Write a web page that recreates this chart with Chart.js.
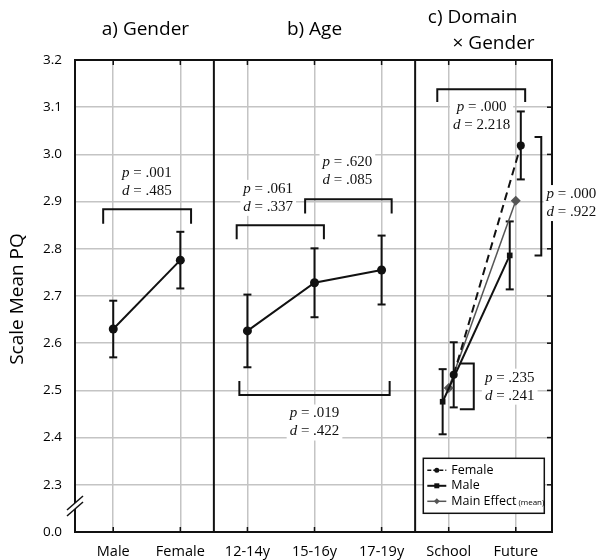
<!DOCTYPE html>
<html><head><meta charset="utf-8">
<script src="https://cdn.jsdelivr.net/npm/chart.js@4"></script>
<style>html,body{margin:0;padding:0;background:#fff}#wrap{width:602px;height:560px}</style>
</head><body><div id="wrap"><canvas id="c" width="602" height="560"></canvas></div>
<script>
// ---------- data ----------
const categories = ['Male','Female','12-14y','15-16y','17-19y','School','Future'];
const yTickValues = [2.2,2.3,2.4,2.5,2.6,2.7,2.8,2.9,3.0,3.1,3.2];
const yTickLabels = ['0.0','2.3','2.4','2.5','2.6','2.7','2.8','2.9','3.0','3.1','3.2'];
const panelTitles = ['a) Gender','b) Age','c) Domain','\u00d7 Gender'];
const yTitle = 'Scale Mean PQ';

const genderMeans  = [2.630, 2.776];
const genderErrors = [0.060, 0.060];
const ageMeans  = [2.626, 2.728, 2.755];
const ageErrors = [0.077, 0.073, 0.073];
const femaleMeans  = [2.533, 3.019];
const femaleErrors = [0.069, 0.072];
const maleMeans  = [2.476, 2.786];
const maleErrors = [0.069, 0.072];
const mainEffectMeans = [2.505, 2.902];

const legendLabels = ['Female','Male','Main Effect'];
const statP = ['.001','.061','.620','.019','.000','.000','.235'];
const statD = ['.485','.337','.085','.422','2.218','.922','.241'];

// ---------- annotation geometry (axis units) ----------
const brackets = [
  {kind:'h', x1:-0.15, x2:1.16, y:2.884, yEnd:2.853, tx:0.5,  ty:2.961, s:0},
  {kind:'h', x1:1.84,  x2:3.14, y:2.850, yEnd:2.820, tx:2.31, ty:2.927, s:1},
  {kind:'h', x1:2.86,  x2:4.15, y:2.905, yEnd:2.875, tx:3.49, ty:2.984, s:2},
  {kind:'h', x1:1.88,  x2:4.12, y:2.490, yEnd:2.520, tx:3.00, ty:2.451, s:3},
  {kind:'h', x1:4.83,  x2:6.14, y:3.138, yEnd:3.111, tx:5.49, ty:3.100, s:4},
  {kind:'v', x:6.38, xEnd:6.28, y1:3.037, y2:2.786, tx:6.83, ty:2.916, s:5},
  {kind:'v', x:5.374, xEnd:5.166, y1:2.557, y2:2.460, tx:5.91, ty:2.527, s:6}
];
const X_MIN = -0.57, X_MAX = 6.54;
const DODGE_F = 0.075, DODGE_M = -0.09;

const SANS = '"Open Sans", "DejaVu Sans", sans-serif';
const SERIF = '"Liberation Serif", "DejaVu Serif", serif';
const INK = '#111';
const GRID = '#c4c4c4';

function line(ctx, x1, y1, x2, y2){ ctx.beginPath(); ctx.moveTo(x1,y1); ctx.lineTo(x2,y2); ctx.stroke(); }

function statGeom(ctx, chart, b){
  const x = chart.scales.x, y = chart.scales.y;
  const cx = x.getPixelForValue(b.tx);
  const py = y.getPixelForValue(b.ty);
  const dy = py + 18;
  const rows = [['p',' = '+statP[b.s], py], ['d',' = '+statD[b.s], dy]];
  let wmax = 0;
  rows.forEach(r=>{
    ctx.font = 'italic 15px ' + SERIF; const w1 = ctx.measureText(r[0]).width;
    ctx.font = '15px ' + SERIF; const w2 = ctx.measureText(r[1]).width;
    r.push(w1, w2); wmax = Math.max(wmax, w1+w2);
  });
  return {cx, py, dy, rows, wmax};
}

const overlay = {
  id: 'overlay',
  beforeDatasetsDraw(chart){
    const {ctx, chartArea:a} = chart; const x = chart.scales.x, y = chart.scales.y;
    ctx.save();
    ctx.strokeStyle = INK; ctx.lineWidth = 2;
    ctx.strokeRect(a.left, a.top, a.right-a.left, a.bottom-a.top);
    [1.5, 4.5].forEach(v=>{ const px = x.getPixelForValue(v); line(ctx, px, a.top, px, a.bottom); });
    ctx.lineWidth = 1.5;
    categories.forEach((c,i)=>{
      const px = x.getPixelForValue(i);
      line(ctx, px, a.top, px, a.top+5);
      line(ctx, px, a.bottom, px, a.bottom-5);
    });
    yTickValues.slice(1,-1).forEach(v=>{ const py = y.getPixelForValue(v); line(ctx, a.right, py, a.right-5, py); });
    // axis break
    const by = y.getPixelForValue(2.255), bx = a.left;
    ctx.fillStyle = '#fff';
    ctx.beginPath();
    ctx.moveTo(bx-8, by+4); ctx.lineTo(bx+8, by-10); ctx.lineTo(bx+8, by-4); ctx.lineTo(bx-8, by+10); ctx.closePath(); ctx.fill();
    ctx.strokeStyle = INK; ctx.lineWidth = 1.5;
    line(ctx, bx-8, by+4, bx+8, by-10);
    line(ctx, bx-8, by+10, bx+8, by-4);
    // white boxes behind stats
    brackets.forEach(b=>{
      const g = statGeom(ctx, chart, b);
      ctx.fillStyle = '#fff';
      ctx.fillRect(g.cx - g.wmax/2 - 3, g.py - 9, g.wmax + 6, g.dy - g.py + 18);
    });
    // error bars
    ctx.strokeStyle = INK; ctx.lineWidth = 2;
    chart.data.datasets.forEach(ds=>{
      if (!ds.err) return;
      ds.data.forEach((p,i)=>{
        const px = x.getPixelForValue(p.x);
        const t = y.getPixelForValue(p.y + ds.err[i]);
        const bt = y.getPixelForValue(p.y - ds.err[i]);
        line(ctx, px, t, px, bt);
        line(ctx, px-4, t, px+4, t);
        line(ctx, px-4, bt, px+4, bt);
      });
    });
    ctx.restore();
  },
  afterDatasetsDraw(chart){
    const {ctx, chartArea:a} = chart; const x = chart.scales.x, y = chart.scales.y;
    ctx.save();
    // brackets
    ctx.strokeStyle = INK; ctx.lineWidth = 2;
    brackets.forEach(b=>{
      ctx.beginPath();
      if (b.kind === 'h'){
        const x1 = x.getPixelForValue(b.x1), x2 = x.getPixelForValue(b.x2);
        const yy = y.getPixelForValue(b.y), ye = y.getPixelForValue(b.yEnd);
        ctx.moveTo(x1, ye); ctx.lineTo(x1, yy); ctx.lineTo(x2, yy); ctx.lineTo(x2, ye);
      } else {
        const xx = x.getPixelForValue(b.x), xe = x.getPixelForValue(b.xEnd);
        const y1 = y.getPixelForValue(b.y1), y2 = y.getPixelForValue(b.y2);
        ctx.moveTo(xe, y1); ctx.lineTo(xx, y1); ctx.lineTo(xx, y2); ctx.lineTo(xe, y2);
      }
      ctx.stroke();
    });
    // stat texts
    ctx.fillStyle = INK; ctx.textBaseline = 'middle'; ctx.textAlign = 'left';
    brackets.forEach(b=>{
      const g = statGeom(ctx, chart, b);
      g.rows.forEach(r=>{
        const w = r[3] + r[4]; const sx = g.cx - w/2;
        ctx.font = 'italic 15px ' + SERIF; ctx.fillText(r[0], sx, r[2]);
        ctx.font = '15px ' + SERIF; ctx.fillText(r[1], sx + r[3], r[2]);
      });
    });
    // legend
    const lx = a.right - 128.7, ly = a.bottom - 73.7, lw = 121, lh = 55;
    ctx.fillStyle = '#fff'; ctx.fillRect(lx, ly, lw, lh);
    ctx.strokeStyle = INK; ctx.lineWidth = 1.5; ctx.strokeRect(lx, ly, lw, lh);
    const rowsY = [ly+12, ly+27.5, ly+43];
    const styles = [
      {c:INK, dash:[4,2], w:1.5, pt:'circle'},
      {c:INK, dash:[], w:2, pt:'rect'},
      {c:'#555', dash:[], w:1.5, pt:'rectRot'}
    ];
    legendLabels.forEach((lab,i)=>{
      const st = styles[i], yy = rowsY[i];
      ctx.strokeStyle = st.c; ctx.lineWidth = st.w; ctx.setLineDash(st.dash);
      line(ctx, lx+4, yy, lx+23, yy);
      ctx.setLineDash([]);
      ctx.fillStyle = st.c;
      const mx = lx + 13.5;
      ctx.beginPath();
      if (st.pt === 'circle') ctx.arc(mx, yy, 2.5, 0, Math.PI*2);
      else if (st.pt === 'rect') ctx.rect(mx-2.5, yy-2.5, 5, 5);
      else { ctx.moveTo(mx, yy-3); ctx.lineTo(mx+3, yy); ctx.lineTo(mx, yy+3); ctx.lineTo(mx-3, yy); ctx.closePath(); }
      ctx.fill();
      ctx.fillStyle = '#000'; ctx.textAlign = 'left'; ctx.textBaseline = 'middle';
      ctx.font = '12.5px ' + SANS; ctx.fillText(lab, lx+28, yy);
      if (i === 2){
        const w = ctx.measureText(lab).width;
        ctx.font = '8px ' + SANS; ctx.fillText('(mean)', lx+28+w+2, yy+1);
      }
    });
    // panel titles
    ctx.fillStyle = '#000'; ctx.textAlign = 'center'; ctx.textBaseline = 'middle';
    ctx.font = '19px ' + SANS;
    const pa = (x.getPixelForValue(X_MIN) + x.getPixelForValue(1.5))/2;
    const pb = (x.getPixelForValue(1.5) + x.getPixelForValue(4.5))/2;
    const pc = (x.getPixelForValue(4.5) + x.getPixelForValue(X_MAX))/2;
    ctx.fillText(panelTitles[0], pa+1, 30);
    ctx.fillText(panelTitles[1], pb, 30);
    ctx.fillText(panelTitles[2], pc-11, 18);
    ctx.fillText(panelTitles[3], pc+10, 44);
    // y title
    ctx.save();
    ctx.translate(18, (a.top + a.bottom)/2 + 3);
    ctx.rotate(-Math.PI/2);
    ctx.font = '19px ' + SANS;
    ctx.fillText(yTitle, 0, 0);
    ctx.restore();
    ctx.restore();
  }
};

function build(){
  const datasets = [
    {label:'Gender', data: genderMeans.map((v,i)=>({x:i, y:v})), err: genderErrors,
     borderColor:INK, backgroundColor:INK, borderWidth:2, pointRadius:4.5, pointStyle:'circle', pointBorderWidth:0},
    {label:'Age', data: ageMeans.map((v,i)=>({x:2+i, y:v})), err: ageErrors,
     borderColor:INK, backgroundColor:INK, borderWidth:2, pointRadius:4.5, pointStyle:'circle', pointBorderWidth:0},
    {label:'Female', data: femaleMeans.map((v,i)=>({x:5+i+DODGE_F, y:v})), err: femaleErrors,
     borderColor:INK, backgroundColor:INK, borderWidth:2, borderDash:[8,5], pointRadius:4, pointStyle:'circle', pointBorderWidth:0},
    {label:'Male', data: maleMeans.map((v,i)=>({x:5+i+DODGE_M, y:v})), err: maleErrors,
     borderColor:INK, backgroundColor:INK, borderWidth:2, pointRadius:4, pointStyle:'rect', pointBorderWidth:0},
    {label:'Main Effect', data: mainEffectMeans.map((v,i)=>({x:5+i, y:v})),
     borderColor:'#555', backgroundColor:'#555', borderWidth:1.5, pointRadius:5, pointStyle:'rectRot', pointBorderWidth:0}
  ];
  new Chart(document.getElementById('c'), {
    type: 'line',
    data: { datasets },
    options: {
      responsive: false, animation: false, devicePixelRatio: 1,
      layout: { padding: { top: 60, right: 50, left: 0, bottom: 0 } },
      plugins: { legend: { display: false }, tooltip: { enabled: false } },
      elements: { line: { tension: 0 } },
      scales: {
        x: {
          type: 'linear', min: X_MIN, max: X_MAX,
          afterBuildTicks: s => { s.ticks = categories.map((c,i)=>({value:i})); },
          afterFit: s => { s.height = 28; },
          ticks: { callback: v => categories[v], font: { family: SANS, size: 14.5 }, color: '#000', padding: 11, maxRotation: 0, autoSkip: false },
          grid: { color: GRID, lineWidth: 1.5, drawTicks: false },
          border: { display: false }
        },
        y: {
          type: 'linear', min: 2.2, max: 3.2,
          afterBuildTicks: s => { s.ticks = yTickValues.map(v=>({value:v})); },
          afterFit: s => { s.width = 75; },
          ticks: { callback: (v,i) => yTickLabels[i], font: { family: SANS, size: 13.5 }, color: '#000', padding: 13, autoSkip: false },
          grid: { color: ctx => (ctx.index === 0 || ctx.index === yTickValues.length-1) ? 'rgba(0,0,0,0)' : GRID, lineWidth: 1.5, drawTicks: false },
          border: { display: false }
        }
      }
    },
    plugins: [overlay]
  });
}

const fontLoads = ['14px "Open Sans"', '19px "Open Sans"', 'italic 15px "Liberation Serif"', '15px "Liberation Serif"']
  .map(f => document.fonts.load(f).catch(()=>{}));
Promise.all(fontLoads).then(build, build);
</script>
</body></html>
